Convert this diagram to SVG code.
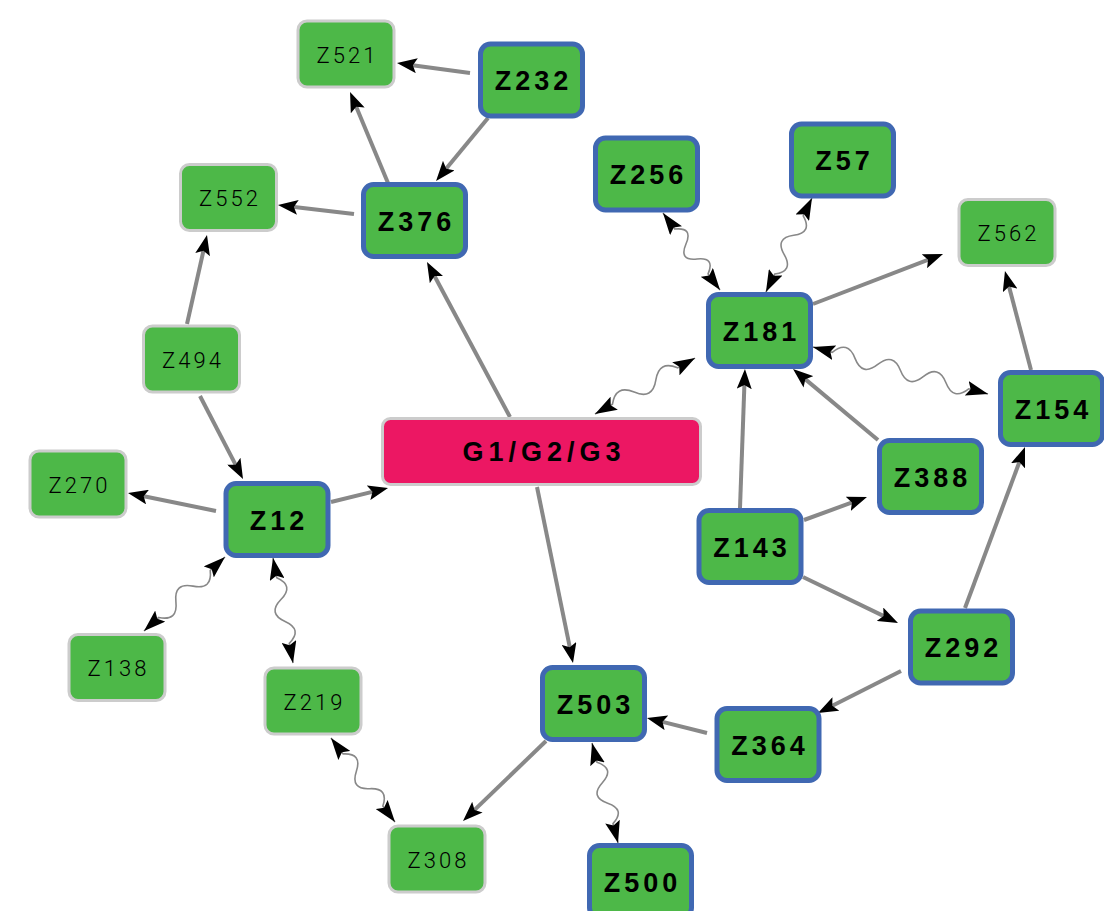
<svg xmlns="http://www.w3.org/2000/svg" width="1104" height="911" viewBox="0 0 1104 911">
<style>
.bn rect{fill:#4DB848;stroke:#4068B2;stroke-width:5}
.ln rect{fill:#4DB848;stroke:#CCCCCC;stroke-width:3}
.bn text{font-family:"Liberation Sans",Arial,sans-serif;font-weight:bold;font-size:27px;letter-spacing:4px;fill:#000;text-anchor:middle}
.ln text{font-family:Roboto,"Liberation Sans",Arial,sans-serif;font-weight:300;font-size:22px;letter-spacing:3px;fill:#000;text-anchor:middle}
.st{fill:none;stroke:#888;stroke-width:4;marker-end:url(#ah)}
.wv{fill:none;stroke:#888;stroke-width:1.6;marker-start:url(#wh);marker-end:url(#wh)}
</style>
<defs>
<marker id="ah" viewBox="0 0 20 15" refX="10" refY="7.5" markerWidth="20" markerHeight="15" markerUnits="userSpaceOnUse" orient="auto"><path d="M0,0 L20,7.5 L0,15 L4,7.5 z" fill="#000"/></marker>
<marker id="wh" viewBox="0 0 22 15" refX="22" refY="7.5" markerWidth="22" markerHeight="15" markerUnits="userSpaceOnUse" orient="auto-start-reverse"><path d="M0,0 L22,7.5 L0,15 L4,7.5 z" fill="#000"/></marker>
</defs>
<rect width="1104" height="911" fill="#fff"/>
<g id="connectors">
<path class="st" d="M470,73 L406.9,64.4"/>
<path class="st" d="M488,118 L442.4,173.3"/>
<path class="st" d="M388,183 L353.9,101.2"/>
<path class="st" d="M354,214 L287.9,206.2"/>
<path class="st" d="M187,324 L204.8,244.8"/>
<path class="st" d="M200,396 L238.4,470.1"/>
<path class="st" d="M216,511 L137.8,495"/>
<path class="st" d="M331,502 L378.3,490.4"/>
<path class="st" d="M510,417 L431.7,270.8"/>
<path class="st" d="M537,487 L571,653.2"/>
<path class="st" d="M546,741 L470.2,814.1"/>
<path class="st" d="M707,733 L656.7,720.4"/>
<path class="st" d="M901,671 L826.9,708.5"/>
<path class="st" d="M965,608 L1021.5,456.4"/>
<path class="st" d="M803,577 L889,618.6"/>
<path class="st" d="M804,520 L857.6,500.4"/>
<path class="st" d="M740,508 L744.6,379"/>
<path class="st" d="M878,440 L800.7,375.4"/>
<path class="st" d="M813,304 L933.7,257.6"/>
<path class="st" d="M1031,370 L1007.5,280.7"/>
<path class="wv" transform="translate(663,213) rotate(53.5)" d="M0,0 L20,0 Q29.3,-16 38.6,0 T57.2,0 T75.8,0 L95.8,0"/>
<path class="wv" transform="translate(812,198) rotate(116.1)" d="M0,0 L20,0 Q30.79,-16 41.57,0 T63.13,0 T84.7,0 L104.7,0"/>
<path class="wv" transform="translate(595,414) rotate(-29.2)" d="M0,0 L20,0 Q32.43,-16 44.87,0 T69.73,0 T94.6,0 L114.6,0"/>
<path class="wv" transform="translate(988,394) rotate(195)" d="M0,0 L20,0 Q31.77,-16 43.53,0 T67.07,0 T90.6,0 T114.13,0 T137.67,0 T161.2,0 L181.2,0"/>
<path class="wv" transform="translate(225,557) rotate(137.6)" d="M0,0 L20,0 Q31.62,-16 43.23,0 T66.47,0 T89.7,0 L109.7,0"/>
<path class="wv" transform="translate(273,558) rotate(79.2)" d="M0,0 L20,0 Q31.15,-16 42.3,0 T64.6,0 T86.9,0 L106.9,0"/>
<path class="wv" transform="translate(331,738) rotate(52.7)" d="M0,0 L20,0 Q30.93,-16 41.87,0 T63.73,0 T85.6,0 L105.6,0"/>
<path class="wv" transform="translate(592,743) rotate(75.4)" d="M0,0 L20,0 Q30.55,-16 41.1,0 T62.2,0 T83.3,0 L103.3,0"/>
</g>
<g id="G1G2G3"><rect x="382.5" y="418.5" width="318" height="66" rx="8" fill="#EC1763" stroke="#CCCCCC" stroke-width="3"/><text x="544" y="461" font-family="Liberation Sans,Arial,sans-serif" font-weight="bold" font-size="27" letter-spacing="5" text-anchor="middle" fill="#000">G1/G2/G3</text></g>
<g id="Z521" class="ln"><rect x="298" y="21" width="96" height="66" rx="9"/><text x="347.5" y="62.5">Z521</text></g>
<g id="Z232" class="bn"><rect x="480.5" y="44" width="102" height="72" rx="10"/><text x="533.5" y="90">Z232</text></g>
<g id="Z376" class="bn"><rect x="363.5" y="184.5" width="102" height="72" rx="10"/><text x="416.5" y="230.5">Z376</text></g>
<g id="Z552" class="ln"><rect x="180.5" y="164.5" width="96" height="66" rx="9"/><text x="230" y="206">Z552</text></g>
<g id="Z494" class="ln"><rect x="143.5" y="326" width="96" height="66" rx="9"/><text x="193" y="367.5">Z494</text></g>
<g id="Z256" class="bn"><rect x="595.5" y="138" width="102" height="72" rx="10"/><text x="648.5" y="184">Z256</text></g>
<g id="Z57" class="bn"><rect x="791.5" y="124" width="102" height="72" rx="10"/><text x="844.5" y="170">Z57</text></g>
<g id="Z181" class="bn"><rect x="708.5" y="294.5" width="102" height="72" rx="10"/><text x="761.5" y="340.5">Z181</text></g>
<g id="Z562" class="ln"><rect x="959" y="199.5" width="96" height="66" rx="9"/><text x="1008.5" y="241">Z562</text></g>
<g id="Z154" class="bn"><rect x="1000.5" y="372.5" width="102" height="72" rx="10"/><text x="1053.5" y="418.5">Z154</text></g>
<g id="Z12" class="bn"><rect x="226" y="483.5" width="102" height="72" rx="10"/><text x="279" y="529.5">Z12</text></g>
<g id="Z270" class="ln"><rect x="30" y="451" width="96" height="66" rx="9"/><text x="79.5" y="492.5">Z270</text></g>
<g id="Z138" class="ln"><rect x="69" y="634.5" width="96" height="66" rx="9"/><text x="118.5" y="676">Z138</text></g>
<g id="Z219" class="ln"><rect x="265" y="668" width="96" height="66" rx="9"/><text x="314.5" y="709.5">Z219</text></g>
<g id="Z308" class="ln"><rect x="389" y="826" width="96" height="66" rx="9"/><text x="438.5" y="867.5">Z308</text></g>
<g id="Z503" class="bn"><rect x="542.5" y="667.5" width="102" height="72" rx="10"/><text x="595.5" y="713.5">Z503</text></g>
<g id="Z500" class="bn"><rect x="589.5" y="845.5" width="102" height="72" rx="10"/><text x="642.5" y="891.5">Z500</text></g>
<g id="Z143" class="bn"><rect x="699" y="510.5" width="102" height="72" rx="10"/><text x="752" y="556.5">Z143</text></g>
<g id="Z388" class="bn"><rect x="879.5" y="440.5" width="102" height="72" rx="10"/><text x="932.5" y="486.5">Z388</text></g>
<g id="Z292" class="bn"><rect x="910.5" y="611" width="102" height="72" rx="10"/><text x="963.5" y="657">Z292</text></g>
<g id="Z364" class="bn"><rect x="717" y="708.5" width="102" height="72" rx="10"/><text x="770" y="754.5">Z364</text></g>
</svg>
